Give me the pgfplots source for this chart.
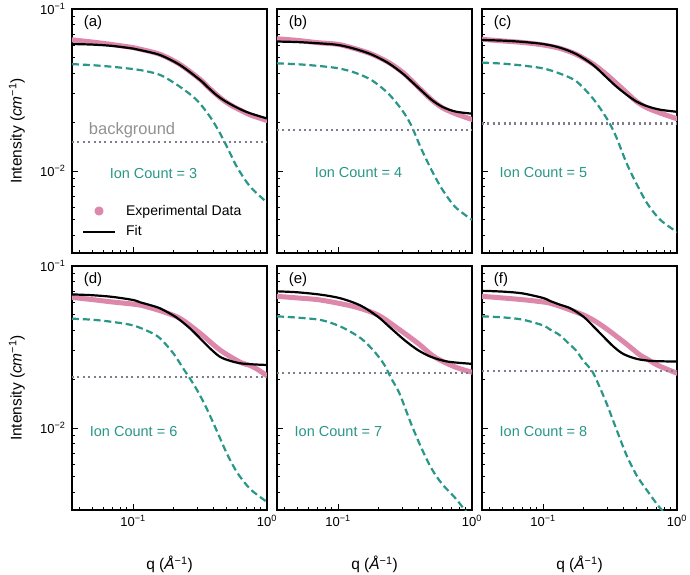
\documentclass[border=0pt]{standalone}
\usepackage{pgfplots}
\pgfplotsset{compat=1.18}
\usepgfplotslibrary{groupplots}
\usepackage{fontspec}
\setmainfont{Liberation Sans}
\definecolor{pinkdata}{RGB}{221,136,170}
\definecolor{tealc}{RGB}{40,150,136}
\definecolor{dotgray}{RGB}{125,125,140}
\definecolor{bggray}{RGB}{145,145,145}
\newcommand{\sups}[1]{\textsuperscript{#1}}
\tikzset{
  lab/.style={anchor=north west, inner sep=0pt, font=\fontsize{15}{18}\selectfont},
  ion/.style={tealc, font=\fontsize{14.5}{17}\selectfont},
}
\begin{document}
\begin{tikzpicture}
\pgfplotsset{
  panel/.style={
    width=195pt, height=244pt, scale only axis,
    xmode=log, ymode=log,
    xmin=0.035, xmax=1, ymin=0.00312, ymax=0.1,
    axis line style={line width=1.2pt},
    tick style={black, line width=0.9pt},
    major tick length=6pt, minor tick length=3.5pt,
    tick align=inside, tick pos=left,
    xtick={0.1,1}, ytick={0.01,0.1},
    minor xtick={0.04,0.05,0.06,0.07,0.08,0.09,0.2,0.3,0.4,0.5,0.6,0.7,0.8,0.9},
    minor ytick={0.004,0.005,0.006,0.007,0.008,0.009,0.02,0.03,0.04,0.05,0.06,0.07,0.08,0.09},
    xticklabel style={font=\fontsize{13}{15}\selectfont, yshift=-2pt},
    yticklabel style={font=\fontsize{13}{15}\selectfont, xshift=-3pt},
    every axis y label/.style={at={(rel axis cs:0,0.5)}, rotate=90, anchor=south, yshift=47pt, inner sep=0pt, font=\fontsize{15.5}{18}\selectfont},
    every axis x label/.style={at={(rel axis cs:0.5,0)}, anchor=north, yshift=-46pt, inner sep=0pt, font=\fontsize{15.5}{18}\selectfont},
  },
  datast/.style={pinkdata, line width=5pt, line join=round, line cap=round, smooth},
  fitst/.style={black, line width=2.2pt, smooth},
  dashst/.style={tealc, line width=2.2pt, dash pattern=on 7pt off 3.8pt, smooth},
  bgst/.style={dotgray, line width=2.4pt, dash pattern=on 2pt off 3.4pt},
}
\begin{groupplot}[group style={group size=3 by 2, horizontal sep=10pt, vertical sep=13pt}, panel]
% ---------- (a)
\nextgroupplot[xticklabels={}, yticklabels={10\sups{−2},10\sups{−1}},
  ylabel={Intensity (\textit{cm}\sups{−1})},
  legend style={at={(rel axis cs:0.05,0.205)}, anchor=north west, draw=none, fill=none,
    font=\fontsize{14}{16}\selectfont, cells={anchor=west}, column sep=8pt, row sep=5pt, inner sep=0pt}]
\addplot[datast, legend image code/.code={\fill[pinkdata] (16pt,0pt) circle (2pt);}] coordinates {
(0.035,0.0645) (0.05,0.0625) (0.07,0.0603) (0.1,0.0578) (0.113,0.0565) (0.159,0.0525) (0.224,0.0455) (0.316,0.0368) (0.36,0.0332) (0.42,0.0296) (0.48,0.0271) (0.56,0.0250) (0.65,0.0235) (0.75,0.0222) (1.0,0.0205)};
\addlegendentry{Experimental Data}
\addplot[fitst, legend image code/.code={\draw[black,line width=2.2pt] (0pt,0pt) -- (32pt,0pt);}] coordinates {
(0.035,0.0608) (0.05,0.0603) (0.07,0.0592) (0.1,0.0570) (0.113,0.0558) (0.159,0.0520) (0.224,0.0451) (0.316,0.0365) (0.36,0.0330) (0.42,0.0294) (0.48,0.0272) (0.56,0.0253) (0.65,0.0238) (0.75,0.0227) (1.0,0.0211)};
\addlegendentry{Fit}
\addplot[dashst, forget plot] coordinates {
(0.035,0.0457) (0.05,0.0450) (0.07,0.0440) (0.1,0.0426) (0.113,0.0420) (0.159,0.0392) (0.224,0.0331) (0.299,0.0274) (0.376,0.0216) (0.446,0.0171) (0.53,0.0129) (0.6,0.0105) (0.75,0.0080) (1.0,0.0064)};
\addplot[bgst, forget plot] coordinates {(0.035,0.0151) (1,0.0151)};
\node[lab] at (rel axis cs:0.06,0.975) {(a)};
\node[ion] at (rel axis cs:0.418,0.324) {Ion Count = 3};
\node[bggray, font=\fontsize{16.5}{19}\selectfont] at (rel axis cs:0.308,0.504) {background};
% ---------- (b)
\nextgroupplot[xticklabels={}, yticklabels={}]
\addplot[datast] coordinates {
(0.035,0.0655) (0.05,0.0640) (0.07,0.0620) (0.1,0.0605) (0.133,0.0570) (0.177,0.0528) (0.236,0.0470) (0.3,0.0410) (0.35,0.0365) (0.42,0.0315) (0.5,0.0275) (0.6,0.0246) (0.75,0.0226) (1.0,0.0208)};
\addplot[fitst] coordinates {
(0.035,0.0630) (0.05,0.0625) (0.07,0.0615) (0.1,0.0600) (0.133,0.0568) (0.177,0.0525) (0.236,0.0465) (0.3,0.0403) (0.35,0.0360) (0.42,0.0313) (0.5,0.0275) (0.6,0.0249) (0.75,0.0233) (1.0,0.0226)};
\addplot[dashst] coordinates {
(0.035,0.0462) (0.05,0.0456) (0.07,0.0446) (0.1,0.0431) (0.133,0.0405) (0.177,0.0365) (0.236,0.0302) (0.3,0.0238) (0.35,0.0193) (0.42,0.0136) (0.5,0.0101) (0.6,0.0077) (0.75,0.0060) (1.0,0.0050)};
\addplot[bgst] coordinates {(0.035,0.0179) (1,0.0179)};
\node[lab] at (rel axis cs:0.06,0.975) {(b)};
\node[ion] at (rel axis cs:0.418,0.328) {Ion Count = 4};
% ---------- (c)
\nextgroupplot[xticklabels={}, yticklabels={}]
\addplot[datast] coordinates {
(0.035,0.0650) (0.05,0.0635) (0.07,0.0622) (0.1,0.0600) (0.133,0.0572) (0.177,0.0525) (0.236,0.0458) (0.3,0.0392) (0.35,0.0350) (0.42,0.0305) (0.5,0.0268) (0.6,0.0245) (0.75,0.0228) (1.0,0.0210)};
\addplot[fitst] coordinates {
(0.035,0.0644) (0.05,0.0638) (0.07,0.0627) (0.1,0.0608) (0.133,0.0578) (0.177,0.0527) (0.236,0.0452) (0.3,0.0376) (0.35,0.0334) (0.42,0.0296) (0.5,0.0268) (0.6,0.0251) (0.75,0.0239) (1.0,0.0232)};
\addplot[dashst] coordinates {
(0.035,0.0467) (0.05,0.0460) (0.07,0.0448) (0.1,0.0430) (0.133,0.0400) (0.177,0.0358) (0.236,0.0280) (0.3,0.0210) (0.35,0.0164) (0.42,0.0112) (0.5,0.0083) (0.6,0.0063) (0.75,0.0050) (1.0,0.0042)};
\addplot[bgst] coordinates {(0.035,0.0197) (1,0.0197)};
\node[lab] at (rel axis cs:0.06,0.975) {(c)};
\node[ion] at (rel axis cs:0.315,0.328) {Ion Count = 5};
% ---------- (d)
\nextgroupplot[xticklabels={10\sups{−1},10\sups{0}}, yticklabels={10\sups{−2},10\sups{−1}},
  ylabel={Intensity (\textit{cm}\sups{−1})}, xlabel={q (\textit{Å}\sups{−1})}]
\addplot[datast] coordinates {
(0.035,0.0640) (0.05,0.0620) (0.07,0.0600) (0.1,0.0582) (0.113,0.0574) (0.159,0.0530) (0.224,0.0475) (0.316,0.0385) (0.446,0.0303) (0.63,0.0255) (0.75,0.0243) (0.85,0.0230) (1.0,0.0210)};
\addplot[fitst] coordinates {
(0.035,0.0668) (0.05,0.0660) (0.07,0.0645) (0.1,0.0617) (0.113,0.0597) (0.133,0.0575) (0.159,0.0548) (0.2,0.0495) (0.224,0.0464) (0.266,0.0412) (0.316,0.0358) (0.376,0.0310) (0.446,0.0275) (0.53,0.0260) (0.63,0.0251) (0.8,0.0247) (1.0,0.0245)};
\addplot[dashst] coordinates {
(0.035,0.0473) (0.05,0.0466) (0.07,0.0452) (0.1,0.0430) (0.133,0.0392) (0.159,0.0358) (0.2,0.0289) (0.237,0.0233) (0.266,0.0202) (0.3,0.0172) (0.35,0.0135) (0.42,0.0097) (0.5,0.0070) (0.6,0.0053) (0.75,0.0042) (1.0,0.0035)};
\addplot[bgst] coordinates {(0.035,0.0206) (1,0.0206)};
\node[lab] at (rel axis cs:0.06,0.975) {(d)};
\node[ion] at (rel axis cs:0.316,0.32) {Ion Count = 6};
% ---------- (e)
\nextgroupplot[xticklabels={10\sups{−1},10\sups{0}}, yticklabels={}, xlabel={q (\textit{Å}\sups{−1})}]
\addplot[datast] coordinates {
(0.035,0.0650) (0.05,0.0635) (0.0746,0.0616) (0.132,0.0561) (0.198,0.0499) (0.279,0.0412) (0.394,0.0334) (0.524,0.0275) (0.74,0.0239) (1.0,0.0221)};
\addplot[fitst] coordinates {
(0.035,0.0698) (0.05,0.0688) (0.0746,0.0665) (0.105,0.0631) (0.148,0.0569) (0.198,0.0487) (0.249,0.0412) (0.313,0.0349) (0.394,0.0303) (0.494,0.0275) (0.66,0.0257) (1.0,0.0249)};
\addplot[dashst] coordinates {
(0.035,0.0489) (0.05,0.0480) (0.0746,0.0464) (0.105,0.0422) (0.148,0.0358) (0.187,0.0296) (0.222,0.0245) (0.249,0.0203) (0.287,0.0164) (0.35,0.0107) (0.42,0.0075) (0.5,0.0056) (0.6,0.0045) (0.75,0.0037) (0.89,0.0031) (1.0,0.0028)};
\addplot[bgst] coordinates {(0.035,0.0218) (1,0.0218)};
\node[lab] at (rel axis cs:0.06,0.975) {(e)};
\node[ion] at (rel axis cs:0.315,0.32) {Ion Count = 7};
% ---------- (f)
\nextgroupplot[xticklabels={10\sups{−1},10\sups{0}}, yticklabels={}, xlabel={q (\textit{Å}\sups{−1})}]
\addplot[datast] coordinates {
(0.035,0.0650) (0.05,0.0635) (0.07,0.0620) (0.1,0.0600) (0.113,0.0589) (0.133,0.0565) (0.16,0.0535) (0.2,0.0499) (0.236,0.0465) (0.283,0.0422) (0.336,0.0380) (0.399,0.0341) (0.46,0.0310) (0.53,0.0282) (0.62,0.0262) (0.71,0.0245) (0.85,0.0230) (1.0,0.0218)};
\addplot[fitst] coordinates {
(0.035,0.0703) (0.05,0.0695) (0.07,0.0678) (0.1,0.0635) (0.113,0.0608) (0.133,0.0578) (0.16,0.0548) (0.2,0.0487) (0.239,0.0422) (0.283,0.0366) (0.336,0.0318) (0.399,0.0286) (0.502,0.0267) (0.63,0.0260) (0.8,0.0258) (1.0,0.0257)};
\addplot[dashst] coordinates {
(0.035,0.0489) (0.05,0.0482) (0.07,0.0467) (0.1,0.0430) (0.113,0.0405) (0.133,0.0375) (0.151,0.0340) (0.177,0.0300) (0.2,0.0260) (0.232,0.0225) (0.26,0.0185) (0.3,0.0140) (0.35,0.0100) (0.42,0.0068) (0.5,0.0051) (0.6,0.0041) (0.75,0.0032) (1.0,0.0025)};
\addplot[bgst] coordinates {(0.035,0.0224) (1,0.0224)};
\node[lab] at (rel axis cs:0.06,0.975) {(f)};
\node[ion] at (rel axis cs:0.315,0.32) {Ion Count = 8};
\end{groupplot}
\pgfresetboundingbox
\path[use as bounding box] ([shift={(-72pt,-65pt)}]group c1r2.south west) rectangle ([shift={(13pt,9pt)}]group c3r1.north east);
\end{tikzpicture}
\end{document}
